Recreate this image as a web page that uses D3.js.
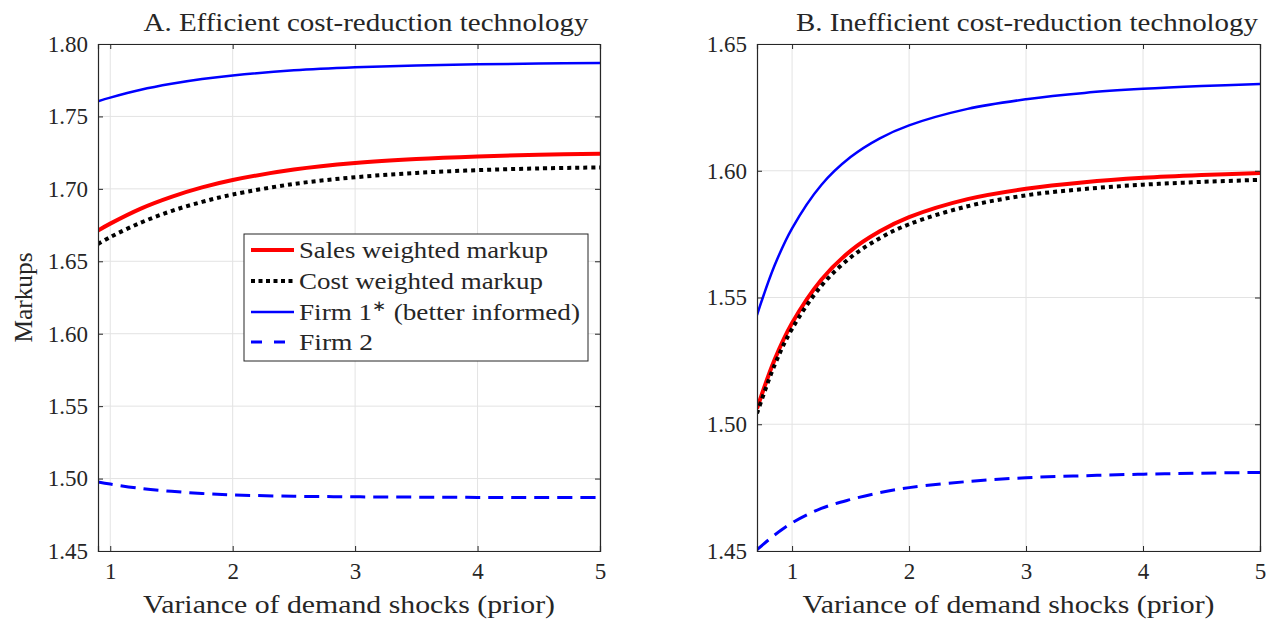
<!DOCTYPE html>
<html>
<head>
<meta charset="utf-8">
<script src="https://cdn.jsdelivr.net/npm/d3@7"></script>
<style>
  html, body { margin: 0; padding: 0; background: #fff; }
  svg { display: block; }
</style>
</head>
<body>
<svg id="chart" width="1275" height="621"></svg>
<script>
// ---------- DATA ----------
const xA = [0.9, 1.0, 1.25, 1.5, 1.75, 2.0, 2.5, 3.0, 3.5, 4.0, 4.5, 5.0];
const salesA = [1.6712, 1.6760, 1.6864, 1.6945, 1.7010, 1.7061, 1.7133, 1.7178, 1.7206, 1.7224, 1.7236, 1.7243];
const costA  = [1.6620, 1.6667, 1.6767, 1.6847, 1.6910, 1.6961, 1.7034, 1.7080, 1.7110, 1.7129, 1.7141, 1.7148];
const firm1A = [1.7605, 1.7630, 1.7684, 1.7725, 1.7758, 1.7783, 1.7818, 1.7839, 1.7852, 1.7860, 1.7865, 1.7868];
const firm2A = [1.4977, 1.4962, 1.4932, 1.4912, 1.4897, 1.4887, 1.4878, 1.4874, 1.4872, 1.4870, 1.4869, 1.4869];

const xB = [0.7, 0.85, 1.0, 1.25, 1.5, 1.75, 2.0, 2.5, 3.0, 3.5, 4.0, 4.5, 5.0];
const salesB = [1.5062, 1.5254, 1.5399, 1.5570, 1.5684, 1.5761, 1.5817, 1.5888, 1.5929, 1.5955, 1.5972, 1.5983, 1.5991];
const costB  = [1.5043, 1.5233, 1.5377, 1.5546, 1.5658, 1.5734, 1.5789, 1.5860, 1.5903, 1.5928, 1.5945, 1.5956, 1.5964];
const firm1B = [1.5431, 1.5626, 1.5773, 1.5944, 1.6054, 1.6128, 1.6179, 1.6244, 1.6282, 1.6307, 1.6323, 1.6334, 1.6342];
const firm2B = [1.4505, 1.4563, 1.4611, 1.4668, 1.4703, 1.4730, 1.4750, 1.4774, 1.4789, 1.4797, 1.4803, 1.4807, 1.4810];

const xTicks = [1, 2, 3, 4, 5];
const yTicksA = [1.45, 1.50, 1.55, 1.60, 1.65, 1.70, 1.75, 1.80];
const yTicksB = [1.45, 1.50, 1.55, 1.60, 1.65];

const titleA = "A. Efficient cost-reduction technology";
const titleB = "B. Inefficient cost-reduction technology";
const xLabel = "Variance of demand shocks (prior)";
const yLabel = "Markups";
const legendLabels = ["Sales weighted markup", "Cost weighted markup", "Firm 1", "Firm 2"];

// ---------- DRAW ----------
const FONT = "'Liberation Serif', 'Times New Roman', serif";
const svg = d3.select("#chart");
const axisColor = "#262626";
const gridColor = "#e3e3e3";

const styles = {
  sales: { color: "#ff0000", width: 4, dash: null },
  cost:  { color: "#000000", width: 4, dash: "4,4" },
  firm1: { color: "#0000ff", width: 2.5, dash: null },
  firm2: { color: "#0000ff", width: 3, dash: "15,8" }
};

function txt(sel, size) {
  return sel.style("font-family", FONT).style("font-size", size + "px").style("fill", axisColor);
}

function panel(id, box, xDomain, yDomain, yTicks, xs, series, title, titleCx, titleLen, showYLabel) {
  const g = svg.append("g");
  const x = d3.scaleLinear().domain(xDomain).range([box.l, box.r]);
  const y = d3.scaleLinear().domain(yDomain).range([box.b, box.t]);

  // grid
  g.append("g").selectAll("line").data(xTicks).join("line")
    .attr("x1", d => x(d)).attr("x2", d => x(d)).attr("y1", box.t).attr("y2", box.b)
    .attr("stroke", gridColor).attr("stroke-width", 1);
  g.append("g").selectAll("line").data(yTicks).join("line")
    .attr("y1", d => y(d)).attr("y2", d => y(d)).attr("x1", box.l).attr("x2", box.r)
    .attr("stroke", gridColor).attr("stroke-width", 1);

  // lines
  const clipId = "clip" + id;
  svg.append("defs").append("clipPath").attr("id", clipId)
    .append("rect").attr("x", box.l).attr("y", box.t - 2).attr("width", box.r - box.l).attr("height", box.b - box.t + 2);
  const lg = g.append("g").attr("clip-path", `url(#${clipId})`);
  const line = d3.line().x((d, i) => x(xs[i])).y(d => y(d)).curve(d3.curveCatmullRom.alpha(0.5));
  series.forEach(s => {
    const st = styles[s.key];
    lg.append("path").attr("d", line(s.values)).attr("fill", "none")
      .attr("stroke", st.color).attr("stroke-width", st.width)
      .attr("stroke-dasharray", st.dash).attr("stroke-linejoin", "round");
  });

  // axes
  const tickLen = 5;
  const xAxis = g.append("g").attr("transform", `translate(0,${box.b})`)
    .call(d3.axisBottom(x).tickValues(xTicks).tickSize(-tickLen).tickPadding(14).tickFormat(d3.format("d")));
  const yAxis = g.append("g").attr("transform", `translate(${box.l},0)`)
    .call(d3.axisLeft(y).tickValues(yTicks).tickSize(-tickLen).tickPadding(10).tickFormat(d3.format(".2f")));
  const xTop = g.append("g").attr("transform", `translate(0,${box.t})`)
    .call(d3.axisTop(x).tickValues(xTicks).tickSize(-tickLen).tickFormat(""));
  const yRight = g.append("g").attr("transform", `translate(${box.r},0)`)
    .call(d3.axisRight(y).tickValues(yTicks).tickSize(-tickLen).tickFormat(""));
  [xAxis, yAxis, xTop, yRight].forEach(a => {
    a.select(".domain").attr("stroke", axisColor).attr("stroke-width", 1.2);
    a.selectAll(".tick line").attr("stroke", axisColor).attr("stroke-width", 1);
    txt(a.selectAll("text"), 23);
  });
  xAxis.selectAll("text").attr("dy", "0.71em").attr("y", 12);

  // title
  txt(g.append("text"), 26).attr("x", titleCx).attr("y", 31).attr("text-anchor", "middle")
    .attr("textLength", titleLen).attr("lengthAdjust", "spacingAndGlyphs").text(title);
  // x label
  txt(g.append("text"), 25).attr("x", (box.l + box.r) / 2).attr("y", 613).attr("text-anchor", "middle")
    .attr("textLength", 412).attr("lengthAdjust", "spacingAndGlyphs").text(xLabel);
  if (showYLabel) {
    txt(g.append("text"), 25).attr("transform", `translate(32,${(box.t + box.b) / 2}) rotate(-90)`)
      .attr("text-anchor", "middle")
      .attr("textLength", 90).attr("lengthAdjust", "spacingAndGlyphs").text(yLabel);
  }
  return { x, y, g };
}

const boxA = { l: 98, r: 600, t: 44, b: 551 };
const boxB = { l: 757, r: 1260, t: 44, b: 551 };

panel("A", boxA, [0.9, 5], [1.45, 1.80], yTicksA, xA, [
  { key: "firm2", values: firm2A },
  { key: "firm1", values: firm1A },
  { key: "sales", values: salesA },
  { key: "cost", values: costA }
], titleA, 366, 445, true);

panel("B", boxB, [0.7, 5], [1.45, 1.65], yTicksB, xB, [
  { key: "firm2", values: firm2B },
  { key: "firm1", values: firm1B },
  { key: "sales", values: salesB },
  { key: "cost", values: costB }
], titleB, 1027, 462, false);

// legend (panel A)
const leg = svg.append("g");
const lb = { l: 244, t: 234, r: 588, b: 361 };
leg.append("rect").attr("x", lb.l).attr("y", lb.t).attr("width", lb.r - lb.l).attr("height", lb.b - lb.t)
  .attr("fill", "#fff").attr("stroke", axisColor).attr("stroke-width", 1);
const keys = ["sales", "cost", "firm1", "firm2"];
const rowY = [250, 281, 312, 342];
const textLens = [249, 244, 281, 74];
keys.forEach((k, i) => {
  const st = styles[k];
  leg.append("line").attr("x1", 251).attr("x2", 294).attr("y1", rowY[i]).attr("y2", rowY[i])
    .attr("stroke", st.color).attr("stroke-width", st.width)
    .attr("stroke-dasharray", k === "firm2" ? "11,12" : (k === "cost" ? "4,3.5" : null));
  const t = txt(leg.append("text"), 24).attr("x", 299).attr("y", rowY[i] + 8)
    .attr("textLength", textLens[i]).attr("lengthAdjust", "spacingAndGlyphs");
  if (k === "firm1") {
    txt(t.append("tspan"), 24).text("Firm 1");
    txt(t.append("tspan"), 15).attr("dy", -9).text("∗");
    txt(t.append("tspan"), 24).attr("dy", 9).text(" (better informed)");
  } else {
    t.text(legendLabels[i]);
  }
});
</script>
</body>
</html>
